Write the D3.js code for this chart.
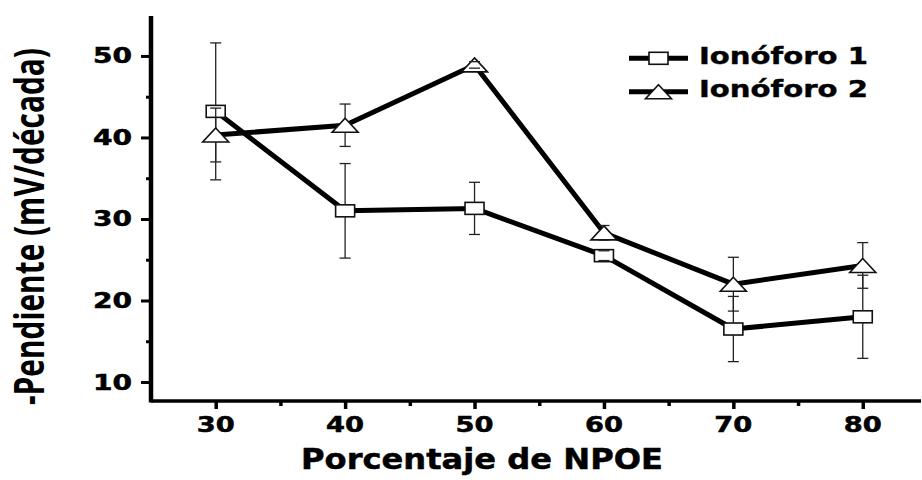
<!DOCTYPE html>
<html>
<head>
<meta charset="utf-8">
<script src="https://cdn.jsdelivr.net/npm/d3@7"></script>
<style>
  html, body { margin: 0; padding: 0; background: #fff; }
  svg { display: block; }
</style>
</head>
<body>
<svg id="chart" width="922" height="480"></svg>
<script>
// NPOE content (%) on the x axis
const npoe = [30, 40, 50, 60, 70, 80];
// Slope (mV/decade, negated) and standard deviation for each ionophore
const ionoforo1 = [43.2, 31.0, 31.3, 25.5, 16.5, 18.0];
const ionoforo1Err = [8.4, 5.8, 3.2, 0.6, 4.0, 5.1];
const ionoforo2 = [40.3, 41.5, 48.9, 28.3, 22.0, 24.3];
const ionoforo2Err = [3.3, 2.6, 0.4, 0.9, 3.3, 2.8];
const seriesNames = ["Ionóforo 1", "Ionóforo 2"];
const xTicks = [30, 40, 50, 60, 70, 80];
const xMinorTicks = [35, 45, 55, 65, 75, 85];
const yTicks = [10, 20, 30, 40, 50];
const yMinorTicks = [15, 25, 35, 45];

const svg = d3.select("#chart");
const boldFont = "'DejaVu Sans', Verdana, sans-serif";

const x = d3.scaleLinear().domain([25, 84.5]).range([151, 921]);
const y = d3.scaleLinear().domain([7.67, 54.9]).range([401, 16]);

// ---- axes ----
const gx = svg.append("g").attr("transform", `translate(0,${y.range()[0]})`);
gx.call(d3.axisBottom(x).tickValues(xTicks).tickSize(8).tickFormat(""));
gx.select(".domain").attr("stroke", "#000").attr("stroke-width", 3.5).attr("d", `M${x.range()[0]},0H${x.range()[1]}`);
gx.selectAll(".tick line").attr("stroke", "#000").attr("stroke-width", 3.5);
const gxMinor = svg.append("g").attr("transform", `translate(0,${y.range()[0]})`);
gxMinor.call(d3.axisBottom(x).tickValues(xMinorTicks.filter(v => x(v) < 918)).tickSize(5).tickFormat(""));
gxMinor.select(".domain").remove();
gxMinor.selectAll(".tick line").attr("stroke", "#000").attr("stroke-width", 3.5);

const gy = svg.append("g").attr("transform", `translate(${x.range()[0]},0)`);
gy.call(d3.axisLeft(y).tickValues(yTicks).tickSize(10).tickFormat(""));
gy.select(".domain").attr("stroke", "#000").attr("stroke-width", 4.5).attr("d", `M0,${y.range()[0] + 1.5}V${y.range()[1]}`);
gy.selectAll(".tick line").attr("stroke", "#000").attr("stroke-width", 3);
const gyMinor = svg.append("g").attr("transform", `translate(${x.range()[0]},0)`);
gyMinor.call(d3.axisLeft(y).tickValues(yMinorTicks).tickSize(5).tickFormat(""));
gyMinor.select(".domain").remove();
gyMinor.selectAll(".tick line").attr("stroke", "#000").attr("stroke-width", 3);

// tick labels
svg.append("g").selectAll("text").data(xTicks).join("text")
  .attr("x", d => x(d)).attr("y", 432)
  .attr("text-anchor", "middle")
  .attr("font-family", boldFont).attr("font-weight", "bold").attr("font-size", 21)
  .attr("stroke", "#000").attr("stroke-width", 0.5)
  .attr("textLength", 38).attr("lengthAdjust", "spacingAndGlyphs")
  .text(d => d);

svg.append("g").selectAll("text").data(yTicks).join("text")
  .attr("x", 132).attr("y", d => y(d) + 7.5)
  .attr("text-anchor", "end")
  .attr("font-family", boldFont).attr("font-weight", "bold").attr("font-size", 20.5)
  .attr("stroke", "#000").attr("stroke-width", 0.5)
  .attr("textLength", 39).attr("lengthAdjust", "spacingAndGlyphs")
  .text(d => d);

// axis titles
svg.append("text")
  .attr("x", 301).attr("y", 469)
  .attr("font-family", boldFont).attr("font-weight", "bold").attr("font-size", 29)
  .attr("stroke", "#000").attr("stroke-width", 0.5)
  .attr("textLength", 362).attr("lengthAdjust", "spacingAndGlyphs")
  .text("Porcentaje de NPOE");

// y title: condensed along its length, stretched across it
const yTitle = svg.append("text")
  .attr("font-family", "'Open Sans', sans-serif").attr("font-weight", 700).attr("font-size", 28)
  .text("-Pendiente (mV/década)");
const yTitleLen = yTitle.node().getComputedTextLength();
yTitle.attr("transform", `translate(44,405) rotate(-90) scale(${357 / yTitleLen},1.45)`);

// ---- data ----
const series = [
  { name: seriesNames[0], values: ionoforo1, errs: ionoforo1Err, shape: "square" },
  { name: seriesNames[1], values: ionoforo2, errs: ionoforo2Err, shape: "triangle" }
];
const sqW = 19, sqH = 12, trW = 26, trH = 14;

function drawMarker(g, shape, cx, cy) {
  if (shape === "square") {
    g.append("rect").attr("x", cx - sqW / 2).attr("y", cy - sqH / 2)
      .attr("width", sqW).attr("height", sqH)
      .attr("fill", "#fff").attr("stroke", "#111").attr("stroke-width", 1.6);
  } else {
    g.append("path")
      .attr("d", `M${cx},${cy - trH / 2}L${cx + trW / 2},${cy + trH / 2}L${cx - trW / 2},${cy + trH / 2}Z`)
      .attr("fill", "#fff").attr("stroke", "#111").attr("stroke-width", 1.6);
  }
}

const line = d3.line().x((d, i) => x(npoe[i])).y(d => y(d));
const plot = svg.append("g");
series.forEach(s => {
  plot.append("path").datum(s.values)
    .attr("d", line).attr("fill", "none")
    .attr("stroke", "#000").attr("stroke-width", 5).attr("stroke-linejoin", "round");
});

series.forEach(s => {
  const g = plot.append("g");
  s.values.forEach((v, i) => {
    const cx = x(npoe[i]), cy = y(v);
    drawMarker(g, s.shape, cx, cy);
    const half = s.shape === "square" ? sqH / 2 : trH / 2;
    const yTop = y(v + s.errs[i]), yBot = y(v - s.errs[i]);
    const eb = g.append("g").attr("stroke", "#222").attr("stroke-width", 1.3);
    if (yTop < cy - half) eb.append("line").attr("x1", cx).attr("x2", cx).attr("y1", yTop).attr("y2", cy - half);
    if (yBot > cy + half) eb.append("line").attr("x1", cx).attr("x2", cx).attr("y1", cy + half).attr("y2", yBot);
    eb.append("line").attr("x1", cx - 5.5).attr("x2", cx + 5.5).attr("y1", yTop).attr("y2", yTop);
    eb.append("line").attr("x1", cx - 5.5).attr("x2", cx + 5.5).attr("y1", yBot).attr("y2", yBot);
  });
});

// ---- legend ----
const legend = svg.append("g");
const legendY = [58.3, 91.7];
series.forEach((s, i) => {
  const g = legend.append("g");
  g.append("line").attr("x1", 629).attr("x2", 688).attr("y1", legendY[i]).attr("y2", legendY[i])
    .attr("stroke", "#000").attr("stroke-width", 5);
  drawMarker(g, s.shape, 658.5, legendY[i]);
  g.append("text").attr("x", 699).attr("y", legendY[i] + 5.5)
    .attr("font-family", boldFont).attr("font-weight", "bold").attr("font-size", 23)
    .attr("stroke", "#000").attr("stroke-width", 0.4)
    .attr("textLength", 169).attr("lengthAdjust", "spacingAndGlyphs")
    .text(s.name);
});
</script>
</body>
</html>
